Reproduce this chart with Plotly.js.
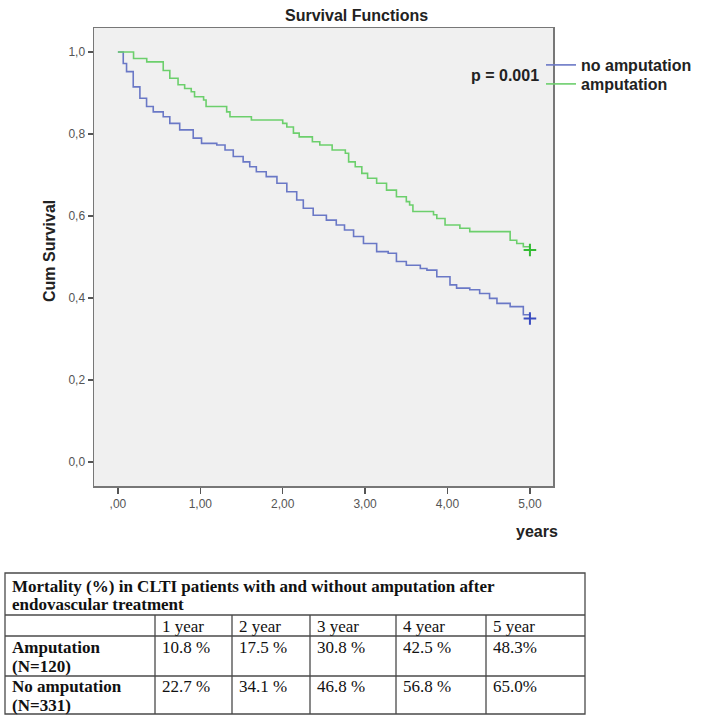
<!DOCTYPE html>
<html>
<head>
<meta charset="utf-8">
<script src="https://cdn.plot.ly/plotly-3.0.1.min.js"></script>
<style>html,body{margin:0;padding:0;background:#fff;}#chart{width:702px;height:720px;}</style>
</head>
<body>
<div id="chart"></div>
<script>
// ---- Kaplan-Meier curves ----
var noAmpYears = [0, 0.065, 0.105, 0.186, 0.267, 0.348, 0.429, 0.55, 0.63, 0.75, 0.914, 1.015, 1.2, 1.3, 1.4, 1.52, 1.6, 1.68, 1.8, 1.93, 2.05, 2.17, 2.25, 2.37, 2.53, 2.65, 2.75, 2.86, 2.98, 3.14, 3.28, 3.38, 3.5, 3.67, 3.75, 3.87, 4.03, 4.11, 4.27, 4.39, 4.51, 4.6, 4.76, 4.92, 5.0];
var noAmpSurv  = [1.0, 0.972, 0.952, 0.915, 0.887, 0.867, 0.854, 0.842, 0.826, 0.81, 0.79, 0.777, 0.773, 0.761, 0.745, 0.732, 0.72, 0.708, 0.696, 0.68, 0.659, 0.639, 0.619, 0.602, 0.59, 0.578, 0.566, 0.55, 0.533, 0.513, 0.509, 0.489, 0.48, 0.472, 0.468, 0.452, 0.432, 0.424, 0.42, 0.411, 0.399, 0.387, 0.379, 0.359, 0.35];

var ampYears = [0, 0.19, 0.35, 0.55, 0.63, 0.73, 0.81, 0.89, 0.93, 1.04, 1.07, 1.32, 1.36, 1.62, 2.0, 2.05, 2.13, 2.2, 2.36, 2.45, 2.6, 2.76, 2.8, 2.88, 2.96, 3.03, 3.14, 3.26, 3.38, 3.5, 3.54, 3.58, 3.83, 3.87, 3.97, 4.15, 4.27, 4.76, 4.84, 4.92, 5.0];
var ampSurv  = [1.0, 0.984, 0.976, 0.955, 0.936, 0.92, 0.911, 0.903, 0.891, 0.883, 0.867, 0.854, 0.842, 0.834, 0.826, 0.817, 0.802, 0.793, 0.781, 0.773, 0.761, 0.753, 0.732, 0.72, 0.704, 0.692, 0.68, 0.663, 0.647, 0.635, 0.627, 0.611, 0.603, 0.594, 0.578, 0.57, 0.562, 0.541, 0.533, 0.525, 0.517];

var censorYears = [5.0];
var noAmpCensor = [0.35];
var ampCensor = [0.517];

var seriesNames = ["no amputation", "amputation"];

// ---- axis tick labels ----
var xTickVals = [0, 1, 2, 3, 4, 5];
var xTickText = [",00", "1,00", "2,00", "3,00", "4,00", "5,00"];
var yTickVals = [0, 0.2, 0.4, 0.6, 0.8, 1.0];
var yTickText = ["0,0", "0,2", "0,4", "0,6", "0,8", "1,0"];

// ---- table ----
var tableTitleLines = ["Mortality (%) in CLTI patients with and without amputation after", "endovascular treatment"];
var tableYears = ["1 year", "2 year", "3 year", "4 year", "5 year"];
var rowLabels = [["Amputation", "(N=120)"], ["No amputation", "(N=331)"]];
var ampMortality = ["10.8 %", "17.5 %", "30.8 %", "42.5 %", "48.3%"];
var noAmpMortality = ["22.7 %", "34.1 %", "46.8 %", "56.8 %", "65.0%"];

var W = 702, H = 720;
var sans = "Liberation Sans, Arial, sans-serif";
var serif = "Liberation Serif, Times New Roman, serif";
var blue = "#6a78c6", green = "#6ccf6c";

var traces = [
  {x: noAmpYears, y: noAmpSurv, type: "scatter", mode: "lines", line: {shape: "hv", color: blue, width: 1.6}, name: seriesNames[0], legend: "legend"},
  {x: ampYears, y: ampSurv, type: "scatter", mode: "lines", line: {shape: "hv", color: green, width: 1.6}, name: seriesNames[1], legend: "legend2"},
  {x: censorYears, y: noAmpCensor, type: "scatter", mode: "markers", showlegend: false, marker: {symbol: "cross-thin", size: 9, line: {width: 2, color: "#3a4cc0"}}, hoverinfo: "skip"},
  {x: censorYears, y: ampCensor, type: "scatter", mode: "markers", showlegend: false, marker: {symbol: "cross-thin", size: 9, line: {width: 2, color: "#33bb33"}}, hoverinfo: "skip"}
];

// ---- table layout (paper pixels) ----
var colEdges = [5, 155, 232, 310, 396, 486, 585];
var rowEdges = [573, 615, 636, 676, 714];
function px(x) { return x / W; }
function py(y) { return 1 - y / H; }
var lineStyle = {color: "#4a4a4a", width: 1.3};
var shapes = [];
var annotations = [];
var tFont = {family: serif, size: 17, color: "#111"};

// outer frame and horizontal rules
shapes.push({type: "rect", xref: "paper", yref: "paper", x0: px(colEdges[0]), x1: px(colEdges[6]), y0: py(rowEdges[0]), y1: py(rowEdges[4]), line: lineStyle, fillcolor: "rgba(0,0,0,0)"});
for (var r = 1; r < rowEdges.length - 1; r++) {
  shapes.push({type: "line", xref: "paper", yref: "paper", x0: px(colEdges[0]), x1: px(colEdges[6]), y0: py(rowEdges[r]), y1: py(rowEdges[r]), line: lineStyle});
}
for (var c = 1; c < colEdges.length - 1; c++) {
  shapes.push({type: "line", xref: "paper", yref: "paper", x0: px(colEdges[c]), x1: px(colEdges[c]), y0: py(rowEdges[1]), y1: py(rowEdges[4]), line: lineStyle});
}
function cellText(txt, x, y, bold) {
  annotations.push({text: bold ? "<b>" + txt + "</b>" : txt, xref: "paper", yref: "paper", x: px(x), y: py(y),
    xanchor: "left", yanchor: "middle", showarrow: false, font: tFont});
}
cellText(tableTitleLines[0], colEdges[0] + 5, 586, true);
cellText(tableTitleLines[1], colEdges[0] + 5, 604, true);
for (var k = 0; k < tableYears.length; k++) cellText(tableYears[k], colEdges[k + 1] + 5, 626, false);
var rowLineY = [[647, 666], [686, 705]];
var rowValues = [ampMortality, noAmpMortality];
for (var rr = 0; rr < 2; rr++) {
  cellText(rowLabels[rr][0], colEdges[0] + 5, rowLineY[rr][0], true);
  cellText(rowLabels[rr][1], colEdges[0] + 5, rowLineY[rr][1], true);
  for (var kk = 0; kk < rowValues[rr].length; kk++) cellText(rowValues[rr][kk], colEdges[kk + 1] + 5, rowLineY[rr][0], false);
}

var txtFont = {family: sans, size: 16, color: "#222"};
annotations.push(
  {text: "<b>Survival Functions</b>", xref: "paper", yref: "paper", x: px(356), y: py(15), showarrow: false, font: txtFont, xanchor: "center", yanchor: "middle"},
  {text: "<b>p = 0.001</b>", xref: "paper", yref: "paper", x: px(505), y: py(76), showarrow: false, font: txtFont, xanchor: "center", yanchor: "middle"},
  {text: "<b>Cum Survival</b>", xref: "paper", yref: "paper", x: px(49), y: py(251), showarrow: false, textangle: -90, font: txtFont, xanchor: "center", yanchor: "middle"},
  {text: "<b>years</b>", xref: "paper", yref: "paper", x: px(537), y: py(531), showarrow: false, font: txtFont, xanchor: "center", yanchor: "middle"}
);

var legFont = {family: sans, size: 16, color: "#222", weight: "bold"};
var layout = {
  width: W, height: H, autosize: false,
  margin: {l: 0, r: 0, t: 0, b: 0},
  paper_bgcolor: "#fff", plot_bgcolor: "#f0f0f0",
  showlegend: true,
  xaxis: {domain: [px(94), px(553)], range: [-0.29, 5.28], tickvals: xTickVals, ticktext: xTickText,
    showgrid: false, zeroline: false, showline: true, mirror: true, linecolor: "#777", linewidth: 1.5,
    ticks: "outside", ticklen: 6, tickwidth: 1.5, tickcolor: "#555",
    tickfont: {family: sans, size: 12, color: "#555"}},
  yaxis: {domain: [py(486), py(28)], range: [-0.0585, 1.0585], tickvals: yTickVals, ticktext: yTickText,
    showgrid: false, zeroline: false, showline: true, mirror: true, linecolor: "#777", linewidth: 1.5,
    ticks: "outside", ticklen: 5, tickwidth: 1.5, tickcolor: "#555",
    tickfont: {family: sans, size: 12, color: "#555"}},
  legend: {x: px(541), xanchor: "left", y: py(65), yanchor: "middle", bgcolor: "rgba(0,0,0,0)", font: legFont, itemwidth: 30},
  legend2: {x: px(541), xanchor: "left", y: py(84), yanchor: "middle", bgcolor: "rgba(0,0,0,0)", font: legFont, itemwidth: 30},
  shapes: shapes,
  annotations: annotations
};

Plotly.newPlot("chart", traces, layout, {displayModeBar: false, staticPlot: true});
</script>
</body>
</html>
